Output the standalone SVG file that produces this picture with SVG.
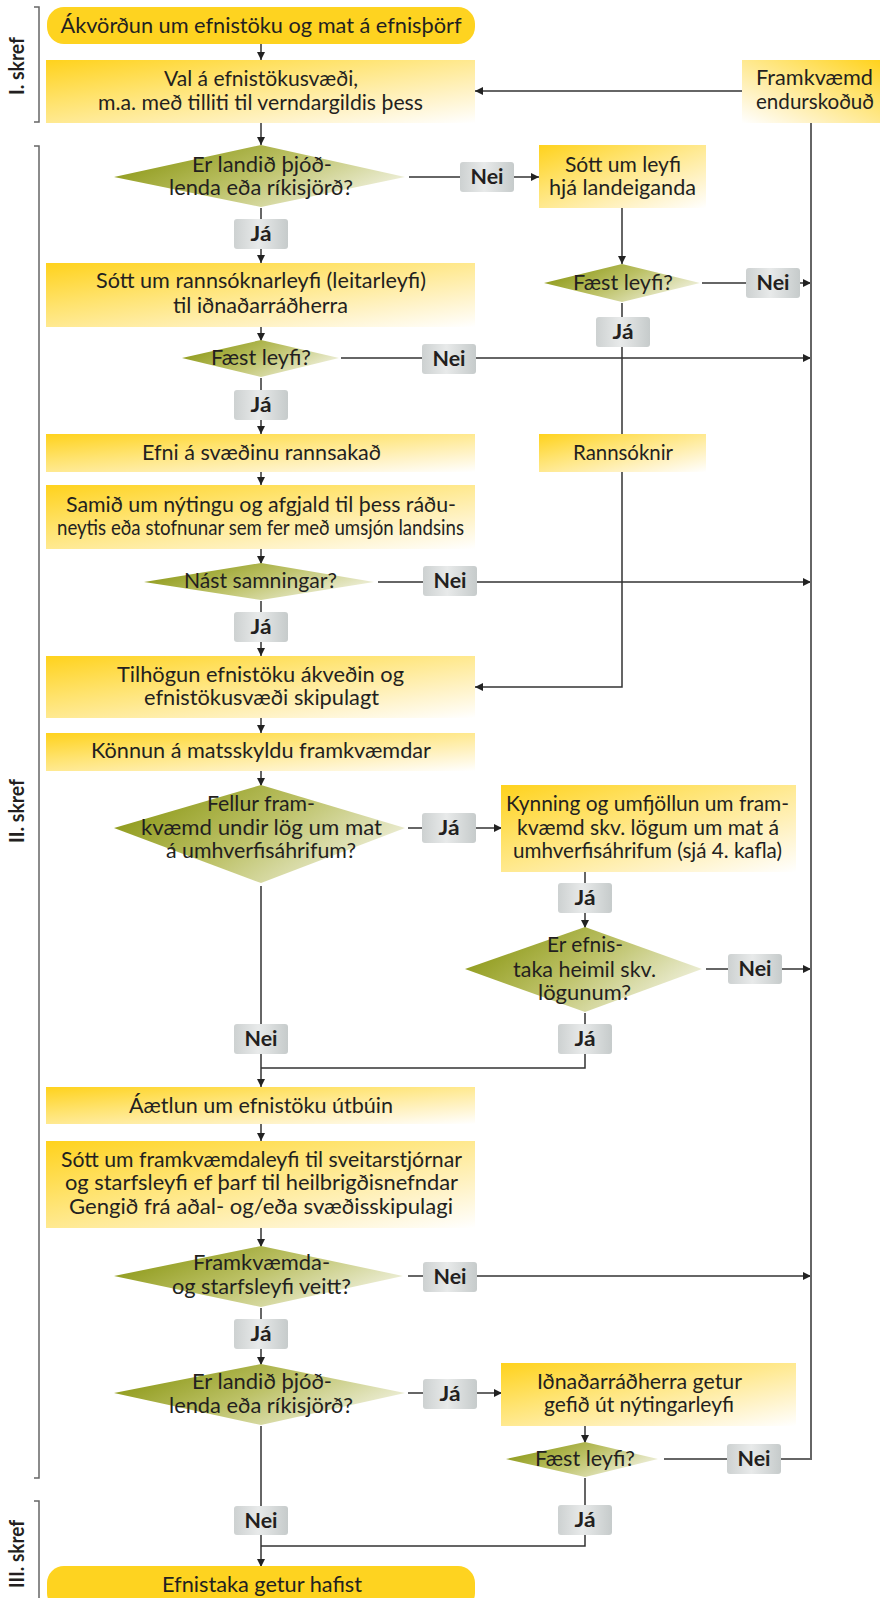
<svg xmlns="http://www.w3.org/2000/svg" width="880" height="1598" viewBox="0 0 880 1598">
<defs>
<linearGradient id="gBox" x1="0" y1="0" x2="1" y2="1">
<stop offset="0" stop-color="#FFD21C"/>
<stop offset="0.35" stop-color="#FFE36E"/>
<stop offset="0.75" stop-color="#FFF3C8"/>
<stop offset="1" stop-color="#FFFFFF"/>
</linearGradient>
<linearGradient id="gBoxR" x1="1" y1="0" x2="0" y2="1">
<stop offset="0" stop-color="#FFD21C"/>
<stop offset="0.35" stop-color="#FFE36E"/>
<stop offset="0.75" stop-color="#FFF3C8"/>
<stop offset="1" stop-color="#FFFFFF"/>
</linearGradient>
<linearGradient id="gDia" x1="0" y1="0.3" x2="1" y2="0.8">
<stop offset="0" stop-color="#8C9816"/>
<stop offset="0.45" stop-color="#BCC166"/>
<stop offset="1" stop-color="#F8F8F0"/>
</linearGradient>
<linearGradient id="gLab" x1="0" y1="0" x2="1" y2="0">
<stop offset="0" stop-color="#CDD1D1"/>
<stop offset="0.45" stop-color="#E8EAEA"/>
<stop offset="1" stop-color="#C6CBCB"/>
</linearGradient>
<marker id="ah" viewBox="0 0 10 10" refX="10" refY="5" markerWidth="9" markerHeight="8" markerUnits="userSpaceOnUse" orient="auto">
<path d="M0,0 L10,5 L0,10 z" fill="#222"/>
</marker>
<style>
.box{fill:url(#gBox)}
.boxr{fill:url(#gBoxR)}
.term{fill:#FED320}
.dia{fill:url(#gDia)}
.lab{fill:url(#gLab)}
text{font-family:Lato,"Open Sans",sans-serif;fill:#231F20;text-anchor:middle}
.t{font-size:21px}
.lt{font-size:21px;font-weight:bold}
.st{font-size:20px;font-weight:bold}
.c{fill:none;stroke:#333;stroke-width:1.5}
.ca{fill:none;stroke:#333;stroke-width:1.5;marker-end:url(#ah)}
.br{fill:none;stroke:#666;stroke-width:1.5}
.rl{fill:none;stroke:#666;stroke-width:2}
</style>
</defs>

<g id="brackets">
<path class="br" d="M34,7 H39 V122 H34"/>
<text class="st" transform="translate(24,66) rotate(-90)" textLength="58" lengthAdjust="spacingAndGlyphs">I. skref</text>
<path class="br" d="M34,146 H39 V1478 H34"/>
<text class="st" transform="translate(24,811) rotate(-90)" textLength="64" lengthAdjust="spacingAndGlyphs">II. skref</text>
<path class="br" d="M34,1501 H39 V1598"/>
<text class="st" transform="translate(24,1554) rotate(-90)" textLength="68" lengthAdjust="spacingAndGlyphs">III. skref</text>
</g>

<g id="connectors">
<path class="ca" d="M261,44 V60"/>
<path class="ca" d="M742,91 H475"/>
<path class="ca" d="M261,123 V145"/>
<path class="ca" d="M409,177 H539"/>
<path class="ca" d="M261,208 V263"/>
<path class="ca" d="M622,208 V264"/>
<path class="ca" d="M702,283 H811"/>
<path class="ca" d="M622,303 V687 H475"/>
<path class="ca" d="M261,327 V341"/>
<path class="ca" d="M341,358 H811"/>
<path class="ca" d="M261,378 V434"/>
<path class="ca" d="M261,472 V485"/>
<path class="ca" d="M261,549 V564"/>
<path class="ca" d="M378,582 H811"/>
<path class="ca" d="M261,601 V656"/>
<path class="ca" d="M261,718 V733"/>
<path class="ca" d="M261,771 V786"/>
<path class="ca" d="M408,828 H502"/>
<path class="ca" d="M585,872 V928"/>
<path class="ca" d="M706,969 H811"/>
<path class="c" d="M585,1013 V1068 H261"/>
<path class="ca" d="M261,886 V1087"/>
<path class="ca" d="M261,1124 V1141"/>
<path class="ca" d="M261,1228 V1247"/>
<path class="ca" d="M408,1276 H811"/>
<path class="ca" d="M261,1308 V1365"/>
<path class="ca" d="M408,1393 H502"/>
<path class="ca" d="M585,1426 V1443"/>
<path class="rl" d="M664,1459 H811 V123"/>
<path class="c" d="M585,1478 V1546 H261"/>
<path class="ca" d="M261,1426 V1567"/>
</g>

<g id="n1"><rect class="term" x="47" y="7" width="428" height="37" rx="17"/><text class="t" x="261" y="33" textLength="401" lengthAdjust="spacingAndGlyphs">Ákvörðun um efnistöku og mat á efnisþörf</text></g>
<g id="n2"><rect class="box" x="46" y="60" width="429" height="63"/><text class="t" x="261" y="86" textLength="194" lengthAdjust="spacingAndGlyphs">Val á efnistökusvæði,</text><text class="t" x="260.5" y="110" textLength="325" lengthAdjust="spacingAndGlyphs">m.a. með tilliti til verndargildis þess</text></g>
<g id="n3"><rect class="boxr" x="742" y="60" width="138" height="63"/><text class="t" x="814.5" y="85" textLength="117" lengthAdjust="spacingAndGlyphs">Framkvæmd</text><text class="t" x="815" y="109" textLength="118" lengthAdjust="spacingAndGlyphs">endurskoðuð</text></g>

<g id="d1"><polygon class="dia" points="261,145 405,177 261,207 114,177"/><text class="t" x="262" y="172" textLength="140" lengthAdjust="spacingAndGlyphs">Er landið þjóð-</text><text class="t" x="261" y="195" textLength="184" lengthAdjust="spacingAndGlyphs">lenda eða ríkisjörð?</text></g>
<g id="l1"><rect class="lab" x="460" y="162" width="54" height="30" rx="3"/><text class="lt" x="487" y="184" textLength="33" lengthAdjust="spacingAndGlyphs">Nei</text></g>
<g id="n4"><rect class="box" x="539" y="145" width="167" height="63"/><text class="t" x="623" y="172" textLength="116" lengthAdjust="spacingAndGlyphs">Sótt um leyfi</text><text class="t" x="622.5" y="195" textLength="147" lengthAdjust="spacingAndGlyphs">hjá landeiganda</text></g>
<g id="d2"><polygon class="dia" points="622,264 700,283 622,302 544,283"/><text class="t" x="623" y="290" textLength="100" lengthAdjust="spacingAndGlyphs">Fæst leyfi?</text></g>
<g id="l2"><rect class="lab" x="746" y="268" width="54" height="30" rx="3"/><text class="lt" x="773" y="290" textLength="33" lengthAdjust="spacingAndGlyphs">Nei</text></g>
<g id="l3"><rect class="lab" x="596" y="317" width="54" height="30" rx="3"/><text class="lt" x="623" y="339" textLength="21" lengthAdjust="spacingAndGlyphs">Já</text></g>
<g id="l4"><rect class="lab" x="234" y="219" width="54" height="30" rx="3"/><text class="lt" x="261" y="241" textLength="21" lengthAdjust="spacingAndGlyphs">Já</text></g>

<g id="n5"><rect class="box" x="46" y="263" width="429" height="64"/><text class="t" x="261" y="288" textLength="330" lengthAdjust="spacingAndGlyphs">Sótt um rannsóknarleyfi (leitarleyfi)</text><text class="t" x="260.5" y="313" textLength="175" lengthAdjust="spacingAndGlyphs">til iðnaðarráðherra</text></g>
<g id="d3"><polygon class="dia" points="261,340 339,358 261,377 182,358"/><text class="t" x="261" y="365" textLength="100" lengthAdjust="spacingAndGlyphs">Fæst leyfi?</text></g>
<g id="l5"><rect class="lab" x="422" y="344" width="54" height="30" rx="3"/><text class="lt" x="449" y="366" textLength="33" lengthAdjust="spacingAndGlyphs">Nei</text></g>
<g id="l6"><rect class="lab" x="234" y="390" width="54" height="30" rx="3"/><text class="lt" x="261" y="412" textLength="21" lengthAdjust="spacingAndGlyphs">Já</text></g>

<g id="n6"><rect class="box" x="46" y="434" width="429" height="38"/><text class="t" x="261.5" y="460" textLength="239" lengthAdjust="spacingAndGlyphs">Efni á svæðinu rannsakað</text></g>
<g id="n7"><rect class="box" x="539" y="434" width="167" height="38"/><text class="t" x="623" y="460" textLength="100" lengthAdjust="spacingAndGlyphs">Rannsóknir</text></g>
<g id="n8"><rect class="box" x="46" y="485" width="429" height="64"/><text class="t" x="261" y="512" textLength="390" lengthAdjust="spacingAndGlyphs">Samið um nýtingu og afgjald til þess ráðu-</text><text class="t" x="260.5" y="535" textLength="407" lengthAdjust="spacingAndGlyphs">neytis eða stofnunar sem fer með umsjón landsins</text></g>
<g id="d4"><polygon class="dia" points="261,563 374,582 261,600 144,582"/><text class="t" x="260.5" y="588" textLength="153" lengthAdjust="spacingAndGlyphs">Nást samningar?</text></g>
<g id="l7"><rect class="lab" x="423" y="566" width="54" height="30" rx="3"/><text class="lt" x="450" y="588" textLength="33" lengthAdjust="spacingAndGlyphs">Nei</text></g>
<g id="l8"><rect class="lab" x="234" y="612" width="54" height="30" rx="3"/><text class="lt" x="261" y="634" textLength="21" lengthAdjust="spacingAndGlyphs">Já</text></g>

<g id="n9"><rect class="box" x="46" y="656" width="429" height="62"/><text class="t" x="260.5" y="682" textLength="287" lengthAdjust="spacingAndGlyphs">Tilhögun efnistöku ákveðin og</text><text class="t" x="261.5" y="705" textLength="235" lengthAdjust="spacingAndGlyphs">efnistökusvæði skipulagt</text></g>
<g id="n10"><rect class="box" x="46" y="733" width="429" height="38"/><text class="t" x="261" y="758" textLength="340" lengthAdjust="spacingAndGlyphs">Könnun á matsskyldu framkvæmdar</text></g>
<g id="d5"><polygon class="dia" points="261,785 405,828 261,883 114,828"/><text class="t" x="261" y="811" textLength="108" lengthAdjust="spacingAndGlyphs">Fellur fram-</text><text class="t" x="261.5" y="835" textLength="241" lengthAdjust="spacingAndGlyphs">kvæmd undir lög um mat</text><text class="t" x="261" y="858" textLength="190" lengthAdjust="spacingAndGlyphs">á umhverfisáhrifum?</text></g>
<g id="l9"><rect class="lab" x="422" y="813" width="54" height="30" rx="3"/><text class="lt" x="449" y="835" textLength="21" lengthAdjust="spacingAndGlyphs">Já</text></g>
<g id="n11"><rect class="box" x="501" y="785" width="295" height="87"/><text class="t" x="647.5" y="811" textLength="283" lengthAdjust="spacingAndGlyphs">Kynning og umfjöllun um fram-</text><text class="t" x="648" y="835" textLength="262" lengthAdjust="spacingAndGlyphs">kvæmd skv. lögum um mat á</text><text class="t" x="647.5" y="858" textLength="269" lengthAdjust="spacingAndGlyphs">umhverfisáhrifum (sjá 4. kafla)</text></g>
<g id="l10"><rect class="lab" x="558" y="883" width="54" height="30" rx="3"/><text class="lt" x="585" y="905" textLength="21" lengthAdjust="spacingAndGlyphs">Já</text></g>
<g id="d6"><polygon class="dia" points="585,927 702,969 585,1012 465,969"/><text class="t" x="585" y="952" textLength="76" lengthAdjust="spacingAndGlyphs">Er efnis-</text><text class="t" x="584.5" y="977" textLength="143" lengthAdjust="spacingAndGlyphs">taka heimil skv.</text><text class="t" x="584.5" y="1000" textLength="93" lengthAdjust="spacingAndGlyphs">lögunum?</text></g>
<g id="l11"><rect class="lab" x="728" y="954" width="54" height="30" rx="3"/><text class="lt" x="755" y="976" textLength="33" lengthAdjust="spacingAndGlyphs">Nei</text></g>
<g id="l12"><rect class="lab" x="558" y="1024" width="54" height="30" rx="3"/><text class="lt" x="585" y="1046" textLength="21" lengthAdjust="spacingAndGlyphs">Já</text></g>
<g id="l13"><rect class="lab" x="234" y="1024" width="54" height="30" rx="3"/><text class="lt" x="261" y="1046" textLength="33" lengthAdjust="spacingAndGlyphs">Nei</text></g>

<g id="n12"><rect class="box" x="46" y="1087" width="429" height="37"/><text class="t" x="261" y="1113" textLength="264" lengthAdjust="spacingAndGlyphs">Áætlun um efnistöku útbúin</text></g>
<g id="n13"><rect class="box" x="46" y="1141" width="429" height="87"/><text class="t" x="261.5" y="1167" textLength="401" lengthAdjust="spacingAndGlyphs">Sótt um framkvæmdaleyfi til sveitarstjórnar</text><text class="t" x="261.5" y="1190" textLength="393" lengthAdjust="spacingAndGlyphs">og starfsleyfi ef þarf til heilbrigðisnefndar</text><text class="t" x="261" y="1214" textLength="384" lengthAdjust="spacingAndGlyphs">Gengið frá aðal- og/eða svæðisskipulagi</text></g>
<g id="d7"><polygon class="dia" points="261,1246 403,1276 261,1307 114,1276"/><text class="t" x="261.5" y="1270" textLength="137" lengthAdjust="spacingAndGlyphs">Framkvæmda-</text><text class="t" x="261.5" y="1294" textLength="179" lengthAdjust="spacingAndGlyphs">og starfsleyfi veitt?</text></g>
<g id="l14"><rect class="lab" x="423" y="1262" width="54" height="30" rx="3"/><text class="lt" x="450" y="1284" textLength="33" lengthAdjust="spacingAndGlyphs">Nei</text></g>
<g id="l15"><rect class="lab" x="234" y="1319" width="54" height="30" rx="3"/><text class="lt" x="261" y="1341" textLength="21" lengthAdjust="spacingAndGlyphs">Já</text></g>
<g id="d8"><polygon class="dia" points="261,1364 405,1393 261,1425 114,1393"/><text class="t" x="262" y="1389" textLength="140" lengthAdjust="spacingAndGlyphs">Er landið þjóð-</text><text class="t" x="261" y="1413" textLength="184" lengthAdjust="spacingAndGlyphs">lenda eða ríkisjörð?</text></g>
<g id="l16"><rect class="lab" x="423" y="1379" width="54" height="30" rx="3"/><text class="lt" x="450" y="1401" textLength="21" lengthAdjust="spacingAndGlyphs">Já</text></g>
<g id="n14"><rect class="box" x="501" y="1363" width="295" height="63"/><text class="t" x="639.5" y="1389" textLength="205" lengthAdjust="spacingAndGlyphs">Iðnaðarráðherra getur</text><text class="t" x="639" y="1412" textLength="190" lengthAdjust="spacingAndGlyphs">gefið út nýtingarleyfi</text></g>
<g id="d9"><polygon class="dia" points="585,1442 658,1459 585,1477 506,1459"/><text class="t" x="585" y="1466" textLength="100" lengthAdjust="spacingAndGlyphs">Fæst leyfi?</text></g>
<g id="l17"><rect class="lab" x="727" y="1444" width="54" height="30" rx="3"/><text class="lt" x="754" y="1466" textLength="33" lengthAdjust="spacingAndGlyphs">Nei</text></g>
<g id="l18"><rect class="lab" x="558" y="1505" width="54" height="30" rx="3"/><text class="lt" x="585" y="1527" textLength="21" lengthAdjust="spacingAndGlyphs">Já</text></g>
<g id="l19"><rect class="lab" x="234" y="1506" width="54" height="29" rx="3"/><text class="lt" x="261" y="1528" textLength="33" lengthAdjust="spacingAndGlyphs">Nei</text></g>
<g id="n15"><rect class="term" x="47" y="1566" width="428" height="44" rx="17"/><text class="t" x="262" y="1592" textLength="200" lengthAdjust="spacingAndGlyphs">Efnistaka getur hafist</text></g>
</svg>
